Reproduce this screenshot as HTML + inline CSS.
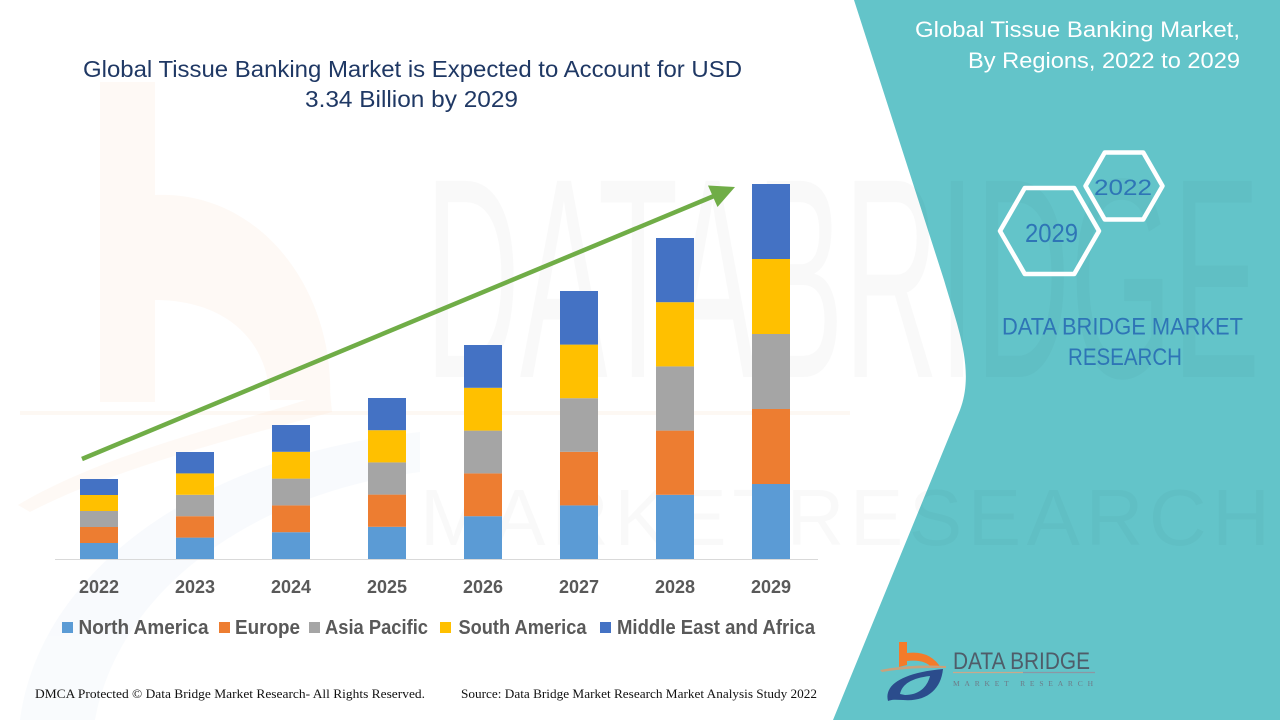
<!DOCTYPE html>
<html>
<head>
<meta charset="utf-8">
<style>
html,body{margin:0;padding:0;background:#fff;}
svg{display:block;}
</style>
</head>
<body>
<svg width="1280" height="720" viewBox="0 0 1280 720" xmlns="http://www.w3.org/2000/svg">
  <rect x="0" y="0" width="1280" height="720" fill="#ffffff"/>

  <!-- faint left logo watermark -->
  <g opacity="0.11">
    <rect x="100" y="82" width="55" height="320" fill="#F7CBA8"/>
    <path d="M155,195 C260,190 335,290 330,400 L270,400 C268,335 220,300 155,300 Z" fill="#F7CBA8"/>
    <path d="M330,392 C250,420 110,450 18,505 L30,512 C120,465 260,432 332,412 Z" fill="#F7CBA8"/>
    <path d="M20,720 C40,570 200,455 420,432 L420,472 C260,492 120,585 95,720 Z" fill="#C9D8EE"/>
  </g>

  <!-- teal panel -->
  <path d="M854,0 L944,280 C958,328 975,370 960,410 L833,720 L1280,720 L1280,0 Z" fill="#63C4C9"/>

  <!-- big watermark text -->
  <text x="425" y="377" font-family="Liberation Sans, sans-serif" font-size="285" textLength="835" lengthAdjust="spacingAndGlyphs" fill="#000" opacity="0.02">DATABRIDGE</text>
  <text x="420" y="545" font-family="Liberation Sans, sans-serif" font-size="80" textLength="850" lengthAdjust="spacing" fill="#000" opacity="0.018">MARKETRESEARCH</text>
  <line x1="20" y1="413" x2="850" y2="413" stroke="#F6C9A5" stroke-width="4" opacity="0.12"/>

  <!-- main title -->
  <text x="83" y="77" font-family="Liberation Sans, sans-serif" font-size="23" fill="#1F3864" textLength="659" lengthAdjust="spacingAndGlyphs">Global Tissue Banking Market is Expected to Account for USD</text>
  <text x="305" y="107" font-family="Liberation Sans, sans-serif" font-size="23" fill="#1F3864" textLength="213" lengthAdjust="spacingAndGlyphs">3.34 Billion by 2029</text>

  <!-- axis line -->
  <line x1="55" y1="559.5" x2="818" y2="559.5" stroke="#D9D9D9" stroke-width="1"/>

  <!-- bars -->
  <g>
    <rect x="80" y="543" width="38" height="16" fill="#5B9BD5"/>
    <rect x="80" y="527" width="38" height="16" fill="#ED7D31"/>
    <rect x="80" y="511" width="38" height="16" fill="#A5A5A5"/>
    <rect x="80" y="495" width="38" height="16" fill="#FFC000"/>
    <rect x="80" y="479" width="38" height="16" fill="#4472C4"/>

    <rect x="176" y="537.6" width="38" height="21.4" fill="#5B9BD5"/>
    <rect x="176" y="516.2" width="38" height="21.4" fill="#ED7D31"/>
    <rect x="176" y="494.8" width="38" height="21.4" fill="#A5A5A5"/>
    <rect x="176" y="473.4" width="38" height="21.4" fill="#FFC000"/>
    <rect x="176" y="452" width="38" height="21.4" fill="#4472C4"/>

    <rect x="272" y="532.2" width="38" height="26.8" fill="#5B9BD5"/>
    <rect x="272" y="505.4" width="38" height="26.8" fill="#ED7D31"/>
    <rect x="272" y="478.6" width="38" height="26.8" fill="#A5A5A5"/>
    <rect x="272" y="451.8" width="38" height="26.8" fill="#FFC000"/>
    <rect x="272" y="425" width="38" height="26.8" fill="#4472C4"/>

    <rect x="368" y="526.8" width="38" height="32.2" fill="#5B9BD5"/>
    <rect x="368" y="494.6" width="38" height="32.2" fill="#ED7D31"/>
    <rect x="368" y="462.4" width="38" height="32.2" fill="#A5A5A5"/>
    <rect x="368" y="430.2" width="38" height="32.2" fill="#FFC000"/>
    <rect x="368" y="398" width="38" height="32.2" fill="#4472C4"/>

    <rect x="464" y="516.2" width="38" height="42.8" fill="#5B9BD5"/>
    <rect x="464" y="473.4" width="38" height="42.8" fill="#ED7D31"/>
    <rect x="464" y="430.6" width="38" height="42.8" fill="#A5A5A5"/>
    <rect x="464" y="387.8" width="38" height="42.8" fill="#FFC000"/>
    <rect x="464" y="345" width="38" height="42.8" fill="#4472C4"/>

    <rect x="560" y="505.4" width="38" height="53.6" fill="#5B9BD5"/>
    <rect x="560" y="451.8" width="38" height="53.6" fill="#ED7D31"/>
    <rect x="560" y="398.2" width="38" height="53.6" fill="#A5A5A5"/>
    <rect x="560" y="344.6" width="38" height="53.6" fill="#FFC000"/>
    <rect x="560" y="291" width="38" height="53.6" fill="#4472C4"/>

    <rect x="656" y="494.8" width="38" height="64.2" fill="#5B9BD5"/>
    <rect x="656" y="430.6" width="38" height="64.2" fill="#ED7D31"/>
    <rect x="656" y="366.4" width="38" height="64.2" fill="#A5A5A5"/>
    <rect x="656" y="302.2" width="38" height="64.2" fill="#FFC000"/>
    <rect x="656" y="238" width="38" height="64.2" fill="#4472C4"/>

    <rect x="752" y="484" width="38" height="75" fill="#5B9BD5"/>
    <rect x="752" y="409" width="38" height="75" fill="#ED7D31"/>
    <rect x="752" y="334" width="38" height="75" fill="#A5A5A5"/>
    <rect x="752" y="259" width="38" height="75" fill="#FFC000"/>
    <rect x="752" y="184" width="38" height="75" fill="#4472C4"/>
  </g>

  <!-- green arrow -->
  <line x1="82" y1="459" x2="714" y2="196" stroke="#70AD47" stroke-width="4.5"/>
  <polygon points="735,187 708,185.5 717.5,207" fill="#70AD47"/>

  <!-- year labels -->
  <g font-family="Liberation Sans, sans-serif" font-size="18" font-weight="bold" fill="#595959" text-anchor="middle">
    <text x="99" y="593">2022</text>
    <text x="195" y="593">2023</text>
    <text x="291" y="593">2024</text>
    <text x="387" y="593">2025</text>
    <text x="483" y="593">2026</text>
    <text x="579" y="593">2027</text>
    <text x="675" y="593">2028</text>
    <text x="771" y="593">2029</text>
  </g>

  <!-- legend -->
  <rect x="62" y="622" width="11" height="11" fill="#5B9BD5"/>
  <rect x="219" y="622" width="11" height="11" fill="#ED7D31"/>
  <rect x="309" y="622" width="11" height="11" fill="#A5A5A5"/>
  <rect x="440" y="622" width="11" height="11" fill="#FFC000"/>
  <rect x="600" y="622" width="11" height="11" fill="#4472C4"/>
  <g font-family="Liberation Sans, sans-serif" font-size="20" font-weight="bold" fill="#595959">
    <text x="78.5" y="634" textLength="130" lengthAdjust="spacingAndGlyphs">North America</text>
    <text x="235" y="634" textLength="65" lengthAdjust="spacingAndGlyphs">Europe</text>
    <text x="325" y="634" textLength="103" lengthAdjust="spacingAndGlyphs">Asia Pacific</text>
    <text x="458.5" y="634" textLength="128" lengthAdjust="spacingAndGlyphs">South America</text>
    <text x="617" y="634" textLength="198" lengthAdjust="spacingAndGlyphs">Middle East and Africa</text>
  </g>

  <!-- footer -->
  <g font-family="Liberation Serif, serif" font-size="13" fill="#111">
    <text x="35" y="698" textLength="390" lengthAdjust="spacingAndGlyphs">DMCA Protected © Data Bridge  Market Research- All Rights Reserved.</text>
    <text x="461" y="698" textLength="356" lengthAdjust="spacingAndGlyphs">Source: Data Bridge Market Research Market Analysis Study 2022</text>
  </g>

  <!-- right panel title -->
  <g font-family="Liberation Sans, sans-serif" font-size="22" fill="#FFFFFF">
    <text x="915" y="37" textLength="325" lengthAdjust="spacingAndGlyphs">Global Tissue Banking Market,</text>
    <text x="968" y="68" textLength="272" lengthAdjust="spacingAndGlyphs">By Regions, 2022 to 2029</text>
  </g>

  <!-- hexagons -->
  <polygon points="1085.5,186 1104.75,152.5 1143.25,152.5 1162.5,186 1143.25,219.5 1104.75,219.5" fill="none" stroke="#FFFFFF" stroke-width="4.5" stroke-linejoin="round"/>
  <polygon points="1000,231 1024.75,188 1074.25,188 1099,231 1074.25,274 1024.75,274" fill="none" stroke="#FFFFFF" stroke-width="4.5" stroke-linejoin="round"/>
  <text x="1094" y="195" font-family="Liberation Sans, sans-serif" font-size="22" fill="#2E75B6" textLength="58" lengthAdjust="spacingAndGlyphs">2022</text>
  <text x="1025" y="242" font-family="Liberation Sans, sans-serif" font-size="26" fill="#2E75B6" textLength="53" lengthAdjust="spacingAndGlyphs">2029</text>

  <!-- DATA BRIDGE MARKET RESEARCH -->
  <g font-family="Liberation Sans, sans-serif" font-size="24" fill="#2E75B6">
    <text x="1002" y="334.5" textLength="241" lengthAdjust="spacingAndGlyphs">DATA BRIDGE MARKET</text>
    <text x="1068" y="365" textLength="114" lengthAdjust="spacingAndGlyphs">RESEARCH</text>
  </g>

  <!-- bottom logo -->
  <g>
    <path d="M899,642 L907,642 L907,653 Q930,650 941,668 L932,668 Q925,659 907,661 L907,665 L899,667 Z" fill="#F47B2A"/>
    <path d="M880,670 Q910,664 946,666 L946,668 Q910,667 882,672 Z" fill="#C9A27C"/>
    <path d="M888,701 C884,686 900,673 943,669 C941,690 926,702 903,700 C898,700 893,699 888,701 Z" fill="#2B4C8C"/>
    <path d="M900,694 C902,684 912,678 930,676 C927,688 918,695 905,695 Z" fill="#63C4C9"/>
    <text x="953" y="669" font-family="Liberation Sans, sans-serif" font-size="24" fill="#4F5C69" textLength="137" lengthAdjust="spacingAndGlyphs">DATA BRIDGE</text>
    <line x1="953" y1="672.5" x2="1023" y2="672.5" stroke="#C9A98C" stroke-width="1.2"/>
    <line x1="1023" y1="672.5" x2="1095" y2="672.5" stroke="#8C97A3" stroke-width="1.2"/>
    <text x="953" y="686" font-family="Liberation Serif, serif" font-size="7.5" fill="#6D7B88" textLength="140" lengthAdjust="spacing">MARKET RESEARCH</text>
  </g>
</svg>
</body>
</html>
